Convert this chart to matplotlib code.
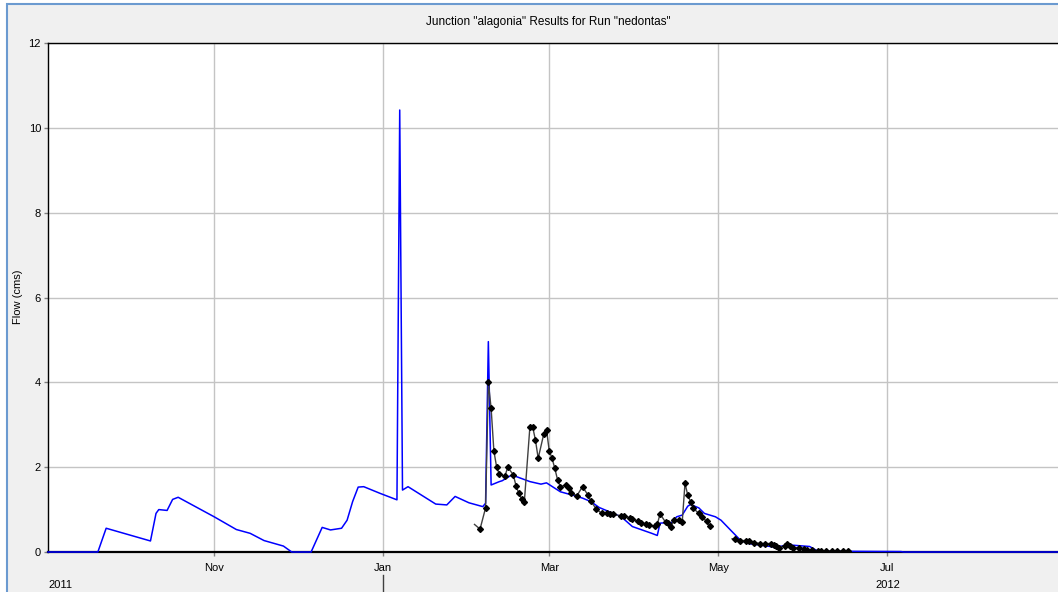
import matplotlib
matplotlib.use("Agg")
import matplotlib.pyplot as plt
import matplotlib.dates as mdates
from matplotlib.patches import Rectangle
from matplotlib.lines import Line2D
import numpy as np

# Simulated flow at the junction (cms), vertices of the daily hydrograph
sim_dates = [
    "2011-09-02", "2011-09-20", "2011-09-23", "2011-10-09", "2011-10-11",
    "2011-10-12", "2011-10-15", "2011-10-17", "2011-10-19", "2011-11-01",
    "2011-11-09", "2011-11-14", "2011-11-19", "2011-11-26", "2011-11-29",
    "2011-12-06", "2011-12-10", "2011-12-13", "2011-12-17", "2011-12-19",
    "2011-12-21", "2011-12-23", "2011-12-25", "2011-12-31", "2012-01-06",
    "2012-01-07", "2012-01-08", "2012-01-10", "2012-01-20", "2012-01-24",
    "2012-01-27", "2012-02-01", "2012-02-06", "2012-02-07", "2012-02-08",
    "2012-02-09", "2012-02-12", "2012-02-13", "2012-02-16", "2012-02-18",
    "2012-02-23", "2012-02-27", "2012-02-29", "2012-03-05", "2012-03-10",
    "2012-03-13", "2012-03-16", "2012-03-19", "2012-03-27", "2012-03-31",
    "2012-04-07", "2012-04-09", "2012-04-10", "2012-04-12", "2012-04-14",
    "2012-04-16", "2012-04-18", "2012-04-20", "2012-04-21", "2012-04-24",
    "2012-04-26", "2012-04-30", "2012-05-02", "2012-05-06", "2012-05-09",
    "2012-05-12", "2012-05-22", "2012-05-26", "2012-06-03", "2012-06-06",
    "2012-07-06", "2012-07-07", "2012-09-03",
]
sim_flow = [
    0.0, 0.0, 0.56, 0.26, 0.91,
    1.00, 0.98, 1.24, 1.29, 0.83,
    0.53, 0.44, 0.27, 0.14, 0.0,
    0.0, 0.58, 0.52, 0.56, 0.75,
    1.19, 1.53, 1.54, 1.38, 1.23,
    10.42, 1.46, 1.54, 1.13, 1.11,
    1.31, 1.16, 1.07, 1.15, 4.96,
    1.58, 1.66, 1.68, 1.80, 1.78,
    1.66, 1.60, 1.63, 1.42, 1.33,
    1.27, 1.19, 1.05, 0.83, 0.60,
    0.44, 0.39, 0.68, 0.69, 0.68,
    0.83, 0.87, 1.08, 1.12, 1.04,
    0.91, 0.83, 0.75, 0.48, 0.28,
    0.20, 0.11, 0.17, 0.13, 0.02,
    0.01, 0.0, 0.0,
]

# Observed flow, first gauged period
obs_dates_a = [
    "2012-02-03", "2012-02-05", "2012-02-07", "2012-02-08", "2012-02-09",
    "2012-02-10", "2012-02-11", "2012-02-12", "2012-02-14", "2012-02-15",
    "2012-02-17", "2012-02-18", "2012-02-19", "2012-02-20", "2012-02-21",
    "2012-02-23", "2012-02-24", "2012-02-25", "2012-02-26", "2012-02-28",
    "2012-02-29", "2012-03-01", "2012-03-02", "2012-03-03", "2012-03-04",
    "2012-03-05", "2012-03-07", "2012-03-08", "2012-03-09", "2012-03-11",
    "2012-03-13", "2012-03-15", "2012-03-16", "2012-03-18", "2012-03-20",
    "2012-03-22", "2012-03-23", "2012-03-24", "2012-03-27", "2012-03-28",
    "2012-03-30", "2012-03-31", "2012-04-02", "2012-04-03", "2012-04-05",
    "2012-04-06", "2012-04-08", "2012-04-09", "2012-04-10", "2012-04-12",
    "2012-04-13", "2012-04-14", "2012-04-15", "2012-04-17", "2012-04-18",
    "2012-04-19", "2012-04-20", "2012-04-21", "2012-04-22", "2012-04-24",
    "2012-04-25", "2012-04-27", "2012-04-28",
]
obs_flow_a = [
    0.65, 0.54, 1.04, 4.00, 3.39,
    2.38, 2.00, 1.83, 1.79, 2.00,
    1.82, 1.56, 1.38, 1.25, 1.19,
    2.95, 2.95, 2.64, 2.21, 2.78,
    2.88, 2.38, 2.21, 1.97, 1.70,
    1.54, 1.58, 1.52, 1.38, 1.33,
    1.54, 1.34, 1.20, 1.01, 0.91,
    0.91, 0.89, 0.89, 0.85, 0.85,
    0.81, 0.77, 0.73, 0.68, 0.65,
    0.64, 0.61, 0.65, 0.90, 0.70,
    0.69, 0.60, 0.75, 0.75, 0.70,
    1.62, 1.34, 1.19, 1.03, 0.91,
    0.82, 0.72, 0.61,
]

# Observed flow, second gauged period
obs_dates_b = [
    "2012-05-06", "2012-05-07", "2012-05-09", "2012-05-11", "2012-05-12",
    "2012-05-14", "2012-05-16", "2012-05-18", "2012-05-20", "2012-05-21",
    "2012-05-22", "2012-05-23", "2012-05-25", "2012-05-26", "2012-05-27",
    "2012-05-28", "2012-05-30", "2012-06-01", "2012-06-02", "2012-06-04",
    "2012-06-06", "2012-06-07", "2012-06-09", "2012-06-11", "2012-06-13",
    "2012-06-15", "2012-06-17",
]
obs_flow_b = [
    0.31, 0.30, 0.27, 0.27, 0.27,
    0.22, 0.20, 0.20, 0.20, 0.17,
    0.13, 0.10, 0.15, 0.18, 0.13,
    0.10, 0.10, 0.07, 0.05, 0.05,
    0.02, 0.02, 0.02, 0.02, 0.02,
    0.02, 0.02,
]

month_ticks = ["2011-11-01", "2012-01-01", "2012-03-01", "2012-05-01", "2012-07-01"]
y_ticks = [0, 2, 4, 6, 8, 10, 12]

title_text = 'Junction "alagonia" Results for Run "nedontas"'
y_label = "Flow (cms)"

plt.rcParams["font.family"] = ["Liberation Sans", "DejaVu Sans"]

W, H = 1058, 592
fig = plt.figure(figsize=(W / 100, H / 100), dpi=100, facecolor="white")

# Panel background with its border, kept beneath the axes
fig.patches.append(Rectangle((7 / W, -0.1), 1.2, 1 - 4 / H + 0.1,
                             transform=fig.transFigure, facecolor="#f0f0f0",
                             edgecolor="#6b9ad0", lw=1.5, zorder=-10))

def px_x(x):
    return x / W

def px_y(y):
    return 1 - y / H

left, right, top, bottom = 48, 1064.4, 43, 552
ax = fig.add_axes([px_x(left), px_y(bottom), (right - left) / W, (bottom - top) / H])
ax.set_zorder(1)
ax.set_facecolor("white")

to_dt = lambda seq: np.array(seq, dtype="datetime64[D]")

ax.plot(to_dt(sim_dates), sim_flow, color="#0000ff", lw=1.1, zorder=3, clip_on=False)
for d, v in ((obs_dates_a, obs_flow_a), (obs_dates_b, obs_flow_b)):
    ax.plot(to_dt(d), v, color="#404040", lw=1.0, marker="D", markersize=3.0,
            markerfacecolor="black", markeredgecolor="black",
            markevery=slice(1, None), zorder=4)

ax.set_xlim(np.datetime64("2011-09-02"), np.datetime64("2012-09-03"))
ax.set_ylim(0, 12)
ax.set_yticks(y_ticks)
ax.set_xticks(to_dt(month_ticks))
ax.xaxis.set_major_formatter(mdates.DateFormatter("%b"))

ax.grid(True, color="#c4c4c4", lw=1.0)
ax.set_axisbelow(True)
ax.tick_params(axis="both", labelsize=8, color="#808080", length=3, width=1)
ax.tick_params(axis="x", pad=5)
ax.tick_params(axis="y", pad=2)

for side in ("left", "top"):
    ax.spines[side].set_color("black")
    ax.spines[side].set_linewidth(1.0)
ax.spines["bottom"].set_color("black")
ax.spines["bottom"].set_linewidth(1.6)
ax.spines["right"].set_visible(False)

fig.text(px_x(548), px_y(22), title_text, ha="center", va="center", fontsize=8.5)
fig.text(px_x(18), px_y(297), y_label, rotation=90, ha="center", va="center", fontsize=8)

# Year band beneath the month labels
fig.text(px_x(48), px_y(585), "2011", ha="left", va="center", fontsize=8)
fig.text(px_x(888), px_y(585), "2012", ha="center", va="center", fontsize=8)
fig.lines.append(Line2D([px_x(383), px_x(383)], [px_y(575), px_y(592)],
                        transform=fig.transFigure, color="#404040", lw=1))

fig.savefig("out.png", dpi=100, facecolor=fig.get_facecolor())
